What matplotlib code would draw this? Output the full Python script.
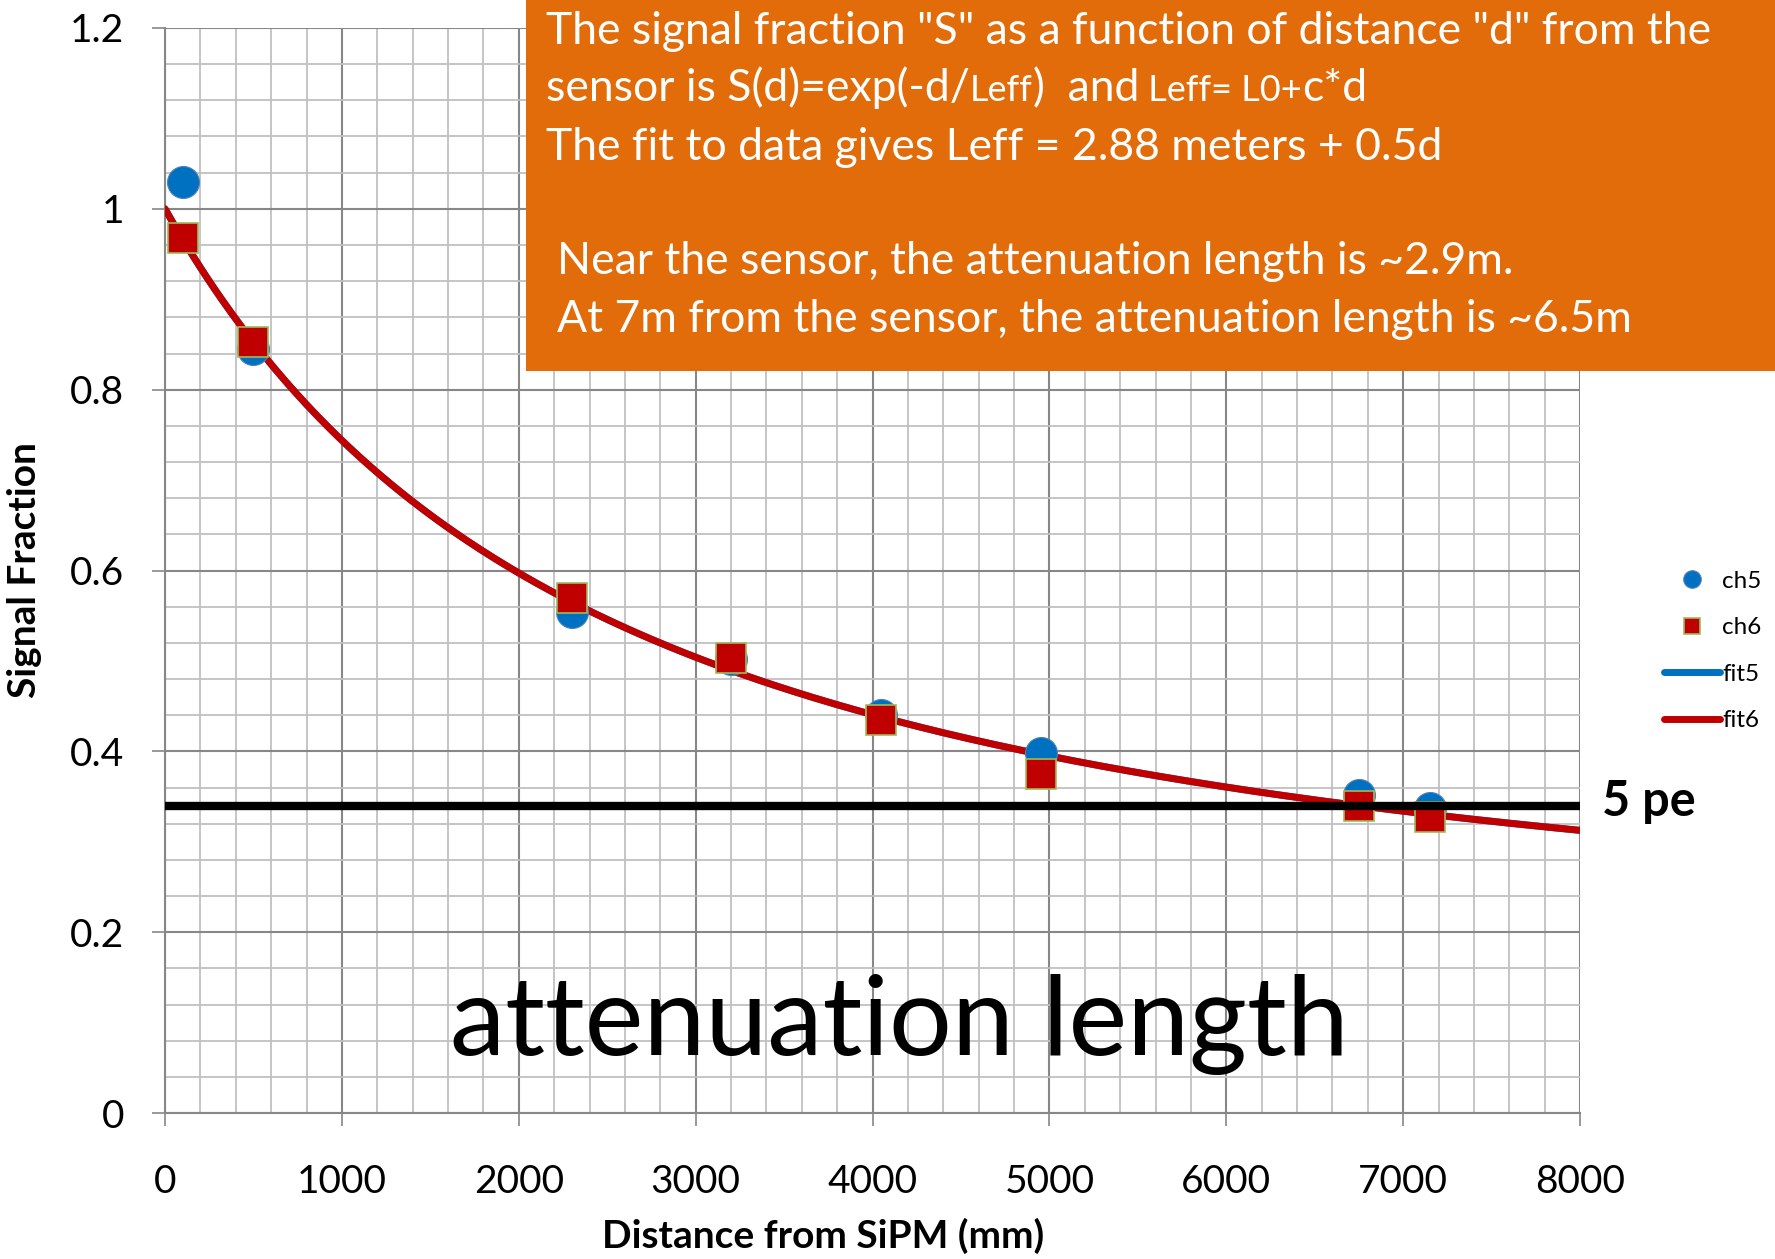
import numpy as np
import matplotlib
matplotlib.use("Agg")
import matplotlib.pyplot as plt
from matplotlib.patches import Rectangle
from matplotlib.ticker import MultipleLocator

plt.rcParams['font.family'] = ['Lato', 'DejaVu Sans']

# measured points (distance in mm, signal fraction)
dist = [100, 500, 2300, 3200, 4050, 4950, 6750, 7150]
ch5 = [1.03, 0.845, 0.554, 0.502, 0.440, 0.398, 0.352, 0.337]
ch6 = [0.968, 0.853, 0.570, 0.503, 0.435, 0.375, 0.339, 0.327]

# fit parameters quoted in the box: Leff = L0 + c*d
L0 = 2880.0
c_slope = 0.5
threshold_5pe = 0.34

BLUE = '#0070C0'
RED = '#C00000'
GREEN = '#9BBB59'
ORANGE = '#E36C0A'

W, H = 1775, 1259
fig = plt.figure(figsize=(W / 100, H / 100), dpi=100)
ax = fig.add_axes([165 / W, 1 - 1113 / H, (1580 - 165) / W, (1113 - 28) / H])

d_fit = np.linspace(0, 8000, 400)
s_fit = np.exp(-d_fit / (L0 + c_slope * d_fit))

ax.plot(d_fit, s_fit, color=BLUE, lw=5, solid_capstyle='round', label='fit5', zorder=3)
ax.plot(d_fit, s_fit, color=RED, lw=5, solid_capstyle='round', label='fit6', zorder=3)
ax.plot(dist, ch5, 'o', ms=23, color=BLUE, mec='#4F81BD', mew=0.8, label='ch5', zorder=4)
ax.plot(dist, ch6, 's', ms=21, color=RED, mec=GREEN, mew=1.2, label='ch6', zorder=5)
ax.axhline(threshold_5pe, color='black', lw=6, zorder=6)

ax.set_xlim(0, 8000)
ax.set_ylim(0, 1.2)
ax.xaxis.set_major_locator(MultipleLocator(1000))
ax.xaxis.set_minor_locator(MultipleLocator(200))
ax.yaxis.set_major_locator(MultipleLocator(0.2))
ax.yaxis.set_minor_locator(MultipleLocator(0.04))
ax.set_yticks([0, 0.2, 0.4, 0.6, 0.8, 1.0, 1.2])
ax.set_yticklabels(['0', '0.2', '0.4', '0.6', '0.8', '1', '1.2'])

ax.grid(which='minor', color='#C0C0C0', lw=1.3)
ax.grid(which='major', color='#878787', lw=1.5)
ax.set_axisbelow(True)
for side in ['top', 'right']:
    ax.spines[side].set_visible(False)
for side in ['left', 'bottom']:
    ax.spines[side].set_color('#878787')
    ax.spines[side].set_linewidth(1.5)

ax.tick_params(which='major', direction='out', length=9.5, width=1.2, color='#878787',
               labelsize=28, pad=27)
ax.tick_params(axis='y', pad=20)
ax.tick_params(which='minor', length=0)

fig.text(25 / W, 1 - 570 / H, 'Signal Fraction', rotation=90, fontsize=28,
         fontweight='bold', ha='center', va='center')
fig.text(823 / W, 1 - 1236 / H, 'Distance from SiPM (mm)', fontsize=28,
         fontweight='bold', ha='center', va='center')

ax.text(4150, 0.098, 'attenuation length', fontsize=80, ha='center', va='center', zorder=7)

fig.text(1602 / W, 1 - 801 / H, '5 pe', fontsize=35, fontweight='bold', ha='left', va='center')

# legend on the right
handles, labels = ax.get_legend_handles_labels()
order = [2, 3, 0, 1]
fig.legend([handles[i] for i in order], [labels[i] for i in order],
           loc='center left', bbox_to_anchor=(1654 / W, 1 - 651 / H), frameon=False,
           fontsize=17.5, markerscale=0.55, handlelength=2.3, handletextpad=0.1,
           labelspacing=1.05, borderaxespad=0)

# orange annotation box
fig.add_artist(Rectangle((526 / W, 1 - 371 / H), (W - 526) / W, 371 / H,
                         transform=fig.transFigure, facecolor=ORANGE, edgecolor='none', zorder=8))

big = 32
small = 26
fig.text(546 / W, 1 - 31 / H, 'The signal fraction "S" as a function of distance "d" from the',
         fontsize=big, color='white', va='center', zorder=9)

renderer = fig.canvas.get_renderer()
parts = [('sensor is S(d)=exp(-d/', big), ('Leff', small), (')  and', big),
         (' Leff= L0+', small), ('c*d', big)]
x = 546 / W
for s, size in parts:
    t = fig.text(x, 1 - 101 / H, s, fontsize=size, color='white', va='baseline', zorder=9)
    bb = t.get_window_extent(renderer)
    x += bb.width / fig.bbox.width

fig.text(546 / W, 1 - 148 / H, 'The fit to data gives Leff = 2.88 meters + 0.5d',
         fontsize=big, color='white', va='center', zorder=9)
fig.text(557 / W, 1 - 262 / H, 'Near the sensor, the attenuation length is ~2.9m.',
         fontsize=big, color='white', va='center', zorder=9)
fig.text(557 / W, 1 - 319 / H, 'At 7m from the sensor, the attenuation length is ~6.5m',
         fontsize=big, color='white', va='center', zorder=9)

fig.savefig('out.png', dpi=100)
